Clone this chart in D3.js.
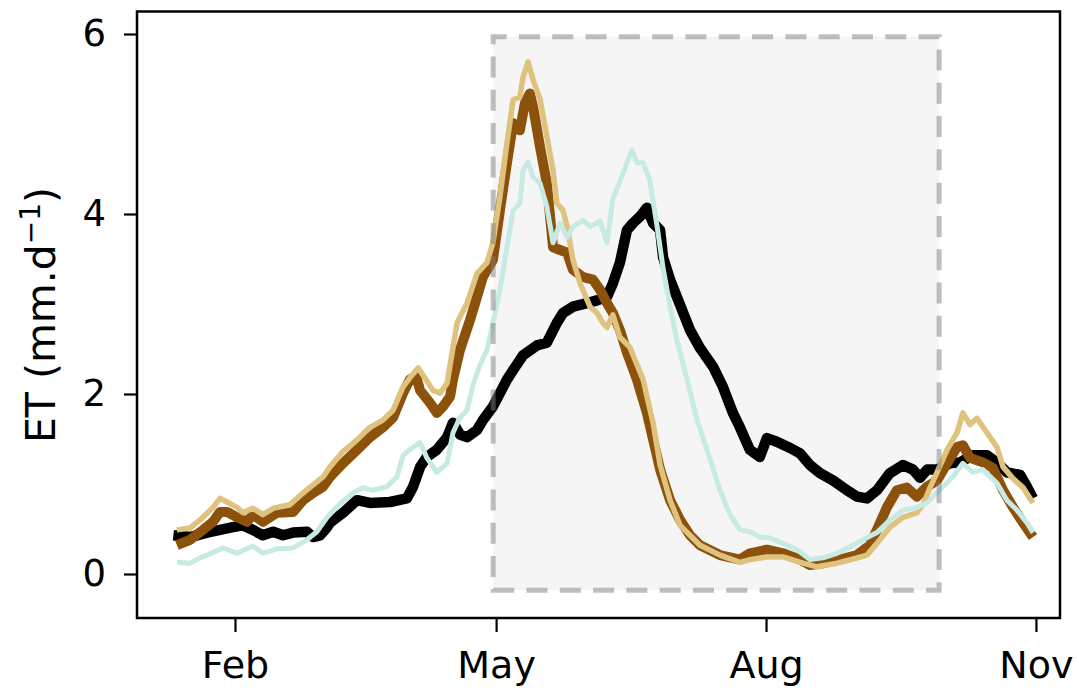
<!DOCTYPE html>
<html><head><meta charset="utf-8">
<script src="https://cdn.jsdelivr.net/npm/d3@7"></script>
<style>body{margin:0;background:#fff} svg{display:block}</style>
</head><body><svg id="c" width="1079" height="690"></svg>
<script>
// ---- data ----
const monthTicks = [32, 121, 213, 305];
const monthLabels = ["Feb", "May", "Aug", "Nov"];
const yTicks = [0, 2, 4, 6];
const yLabel = "ET (mm.d";
const yLabelSup = "\u22121";

const shadeDays = [120, 272];
const shadeET = [-0.18, 5.97];

const blackDay = [11,16.7,22.5,26.9,31.3,34.7,38.1,41.5,45,48.4,51.8,56.5,58.6,61,63.4,64.4,68.8,73.6,78,84.8,90.6,92.7,95.1,97.4,100.8,104.3,106.3,108.7,111.1,114.5,116.5,119.9,122.3,124.7,127.5,130.2,134.9,138.3,141.7,143.8,147.2,152,155.4,158.8,160.8,163.2,165.6,167.7,170,172.4,174.5,176.9,177.9,180.3,183.7,187.1,190.5,195,198.3,201.7,204.1,207.5,210.9,213.3,216.7,221.2,224.6,228,231.4,235.8,240.6,244,247.4,250.8,255.2,259.7,263.1,265.5,267.9,271.3,275.7,279.1,283.5,288.3,291.7,295.1,299.6,301.9,304];
const blackET = [0.43,0.41,0.46,0.49,0.52,0.54,0.49,0.43,0.47,0.43,0.46,0.47,0.41,0.43,0.52,0.57,0.68,0.82,0.79,0.80,0.84,0.97,1.19,1.30,1.38,1.52,1.68,1.55,1.52,1.60,1.71,1.86,2.01,2.16,2.30,2.43,2.54,2.57,2.79,2.90,2.97,3.01,3.04,3.08,3.23,3.46,3.82,3.90,3.97,4.07,3.90,3.82,3.52,3.27,2.99,2.71,2.51,2.30,2.08,1.79,1.63,1.38,1.30,1.51,1.47,1.40,1.34,1.21,1.12,1.04,0.93,0.86,0.84,0.93,1.12,1.21,1.16,1.07,1.16,1.16,1.23,1.24,1.32,1.32,1.24,1.13,1.10,0.97,0.84];

const brownDay = [12.2,16.7,21.1,24.5,26.9,29.3,32.7,36.1,38.1,41.5,46.3,51.8,55.2,58.6,62,64.4,68.8,73.6,78,82.4,85.9,89.3,91.6,93.7,95.1,98.5,100.8,102.9,105.3,106.3,108.7,112.1,116.5,119.9,122.3,124.7,126.8,129.1,130.8,132.5,133.6,136,138.3,140.4,142.8,145.2,147.2,150.6,154,156.4,158.8,160.8,163.2,165.6,169,172.4,176.9,180.3,183.7,187.1,190.5,197.3,204.1,207.5,213.3,218.8,224.6,228,232.4,238.2,244,248.4,250.8,254.2,257.6,261,264.4,267.9,271.3,274.7,278.1,280.1,282.5,286.9,290.3,293.8,297.2,300.6,304];
const brownET = [0.32,0.38,0.49,0.58,0.69,0.69,0.63,0.58,0.66,0.58,0.68,0.69,0.82,0.90,0.97,1.08,1.23,1.38,1.52,1.63,1.74,2.01,2.16,2.20,2.04,1.90,1.79,1.86,1.97,2.16,2.49,2.82,3.30,3.49,4.04,4.57,5.01,4.93,5.23,5.34,5.19,4.74,4.34,3.63,3.60,3.57,3.38,3.30,3.27,3.16,3.01,2.90,2.71,2.46,2.16,1.79,1.16,0.82,0.60,0.43,0.32,0.21,0.16,0.23,0.27,0.23,0.16,0.10,0.12,0.16,0.21,0.32,0.49,0.74,0.93,0.96,0.86,0.97,1.04,1.23,1.41,1.43,1.29,1.24,1.18,0.93,0.74,0.57,0.41];

const tanDay = [12.2,16.7,21.1,24.5,26.9,29.3,32.7,34.7,38.1,41.5,45,50.7,55.2,58.6,62,64.4,68.8,73.6,78,82.4,85.9,89.3,91.6,94.4,96.7,99.5,101.9,104.3,105.3,107.7,111.1,114.5,117.9,119.9,122.3,124.7,126.8,129.1,130.2,131.9,133.6,136,138.3,140.4,141.7,143.8,145.2,147.2,149.6,153,155.4,157.4,158.8,160.8,163.2,166.6,171.1,174.5,176.9,180.3,183.7,190.5,197.3,204.1,207.5,213.3,218.8,225.6,230.4,237.2,244,247.4,250.8,255.2,259.7,264.4,266.5,268.9,271.3,274.7,278.1,280.1,282.5,284.9,288.3,291.7,293.8,297.2,300.6,304];
const tanET = [0.49,0.51,0.63,0.74,0.84,0.80,0.74,0.68,0.73,0.66,0.73,0.77,0.90,0.99,1.08,1.19,1.36,1.49,1.63,1.71,1.82,2.08,2.18,2.29,2.18,2.04,2.01,2.12,2.32,2.79,3.01,3.34,3.46,3.68,4.19,4.79,5.27,5.30,5.52,5.69,5.49,5.27,4.86,4.49,4.12,4.04,3.86,3.49,3.23,2.97,2.90,2.79,2.74,2.88,2.63,2.52,2.16,1.68,1.21,0.82,0.54,0.32,0.21,0.13,0.16,0.19,0.19,0.12,0.08,0.12,0.18,0.21,0.34,0.52,0.63,0.68,0.77,0.96,1.13,1.38,1.57,1.79,1.66,1.73,1.57,1.41,1.19,1.06,0.96,0.79];

const cyanDay = [12.2,16.7,20.1,22.5,24.5,27.9,32.7,38.1,41.5,46.3,51.8,56.5,59.9,63.4,67.8,72.2,75.6,79,83.8,87.2,89.3,92.7,95.1,97.4,100.8,104.3,106.3,108.7,111.1,113.1,115.5,117.9,119.9,122.3,124.7,126.8,129.1,130.2,131.9,133.6,136,138.3,140.4,142.8,145.2,147.2,150.6,153,156.4,158.8,160.8,163.2,165.6,167.3,169,171.1,173.4,175.8,177.9,180.3,182.6,186.1,189.5,194,197.3,200.7,204.1,207.5,210.9,214.3,218.8,223.6,228,232.4,237.2,241.6,246,250.8,255.2,259.7,264.4,267.9,269.9,273.3,276.7,280.1,283.5,286.9,291.7,295.1,298.5,301.9,304];
const cyanET = [0.13,0.12,0.18,0.21,0.24,0.29,0.23,0.31,0.23,0.28,0.29,0.38,0.47,0.63,0.78,0.90,0.96,0.93,0.97,1.08,1.32,1.41,1.46,1.29,1.13,1.23,1.57,1.74,1.82,2.10,2.32,2.49,2.79,3.16,3.63,4.04,4.12,4.49,4.58,4.41,4.34,4.08,3.68,3.90,3.74,3.86,3.93,3.86,3.92,3.68,4.17,4.36,4.57,4.71,4.57,4.57,4.37,3.88,3.40,2.97,2.60,2.16,1.71,1.27,0.93,0.66,0.49,0.47,0.41,0.40,0.34,0.27,0.16,0.18,0.23,0.30,0.38,0.46,0.60,0.71,0.74,0.79,0.86,0.97,1.08,1.23,1.13,1.16,1.01,0.82,0.71,0.57,0.46];

const seriesList = [
  {day: blackDay, et: blackET, color: "#000000", width: 10.5},
  {day: brownDay, et: brownET, color: "#8c510a", width: 10},
  {day: tanDay, et: tanET, color: "#dfc27d", width: 5.5},
  {day: cyanDay, et: cyanET, color: "#c7eae5", width: 5}
];

// ---- layout ----
const L = 137, R = 1060, T = 11.5, B = 618;
const svg = d3.select("#c");
const x = d3.scaleLinear().domain([-1.4, 313.2]).range([L, R]);
const y = d3.scaleLinear().domain([-0.489, 6.25]).range([B, T]);
const font = "DejaVu Sans, sans-serif";

// shade fill
const sx0 = x(shadeDays[0]), sx1 = x(shadeDays[1]), sy0 = y(shadeET[0]), sy1 = y(shadeET[1]);
svg.append("rect").attr("x", sx0).attr("y", sy1).attr("width", sx1 - sx0).attr("height", sy0 - sy1)
  .attr("fill", "#f5f5f5");

// lines
const line = d3.line().x(d => x(d[0])).y(d => y(d[1]));
seriesList.forEach(s => {
  const pts = s.day.map((d, i) => [d, s.et[i]]);
  svg.append("path").attr("d", line(pts)).attr("fill", "none")
    .attr("stroke", s.color).attr("stroke-width", s.width)
    .attr("stroke-linejoin", "round").attr("stroke-linecap", "butt");
});

// shade dashed edge (on top)
svg.append("path")
  .attr("d", `M${sx0},${sy0}L${sx1},${sy0}L${sx1},${sy1}L${sx0},${sy1}Z`)
  .attr("fill", "none").attr("stroke", "#808080").attr("stroke-opacity", 0.5)
  .attr("stroke-width", 5).attr("stroke-dasharray", "21,12.3");

// frame
svg.append("rect").attr("x", L).attr("y", T).attr("width", R - L).attr("height", B - T)
  .attr("fill", "none").attr("stroke", "#000").attr("stroke-width", 2.5);

// axes
const yAxis = svg.append("g").attr("transform", `translate(${L},0)`)
  .call(d3.axisLeft(y).tickValues(yTicks).tickSize(13).tickPadding(18).tickFormat(d3.format("d")));
const xAxis = svg.append("g").attr("transform", `translate(0,${B})`)
  .call(d3.axisBottom(x).tickValues(monthTicks).tickSize(14).tickPadding(19)
    .tickFormat((d, i) => monthLabels[i]));
[yAxis, xAxis].forEach(g => {
  g.select(".domain").remove();
  g.selectAll(".tick line").attr("stroke", "#000").attr("stroke-width", 2.2);
  g.selectAll(".tick text").attr("fill", "#000").attr("font-family", font);
});
yAxis.selectAll(".tick text").attr("font-size", 37);
xAxis.selectAll(".tick text").attr("font-size", 38);

// y label
const yl = svg.append("text").attr("transform", `translate(55,315) rotate(-90)`)
  .attr("text-anchor", "middle").attr("font-family", font).attr("font-size", 41).attr("fill", "#000");
yl.append("tspan").text(yLabel);
yl.append("tspan").attr("font-size", 28).attr("dy", -15).text(yLabelSup);
yl.append("tspan").attr("dy", 15).text(")");
</script></body></html>
